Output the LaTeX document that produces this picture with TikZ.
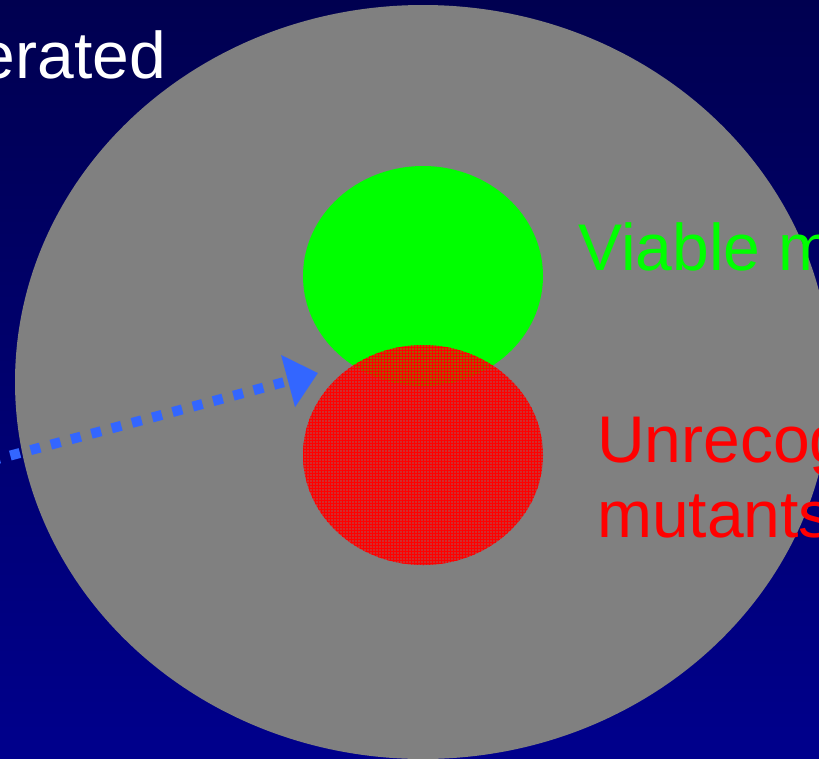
\documentclass[tikz,border=0pt]{standalone}
\usepackage{fontspec}
\setmainfont{Liberation Sans}
\usetikzlibrary{arrows.meta, shapes.geometric, patterns}
\definecolor{navytop}{RGB}{0,0,80}
\definecolor{navybot}{RGB}{0,0,140}
\definecolor{pool}{RGB}{128,128,128}
\definecolor{arrowblue}{RGB}{51,102,255}

\begin{document}
\begin{tikzpicture}[x=1pt, y=-1pt,
  label/.style = {inner sep=0pt, font=\fontsize{66}{75}\selectfont},
  blob/.style = {ellipse, inner sep=0pt, minimum width=240pt, minimum height=220pt}]
\useasboundingbox (0,0) rectangle (819,758);
\shade[top color=navytop, bottom color=navybot] (0,0) rectangle (819,758);
\node[ellipse, inner sep=0pt, minimum width=816pt, minimum height=754pt, fill=pool] (all) at (423,382) {};
\node[blob, fill=green] (viable) at (423,276) {};
\node[blob, fill=red, fill opacity=0.65] (unrecog) at (423,455) {};
\node[blob, pattern=grid, pattern color=red] (unrecoghatch) at (423,455) {};
\coordinate (src) at (-10,461);
\coordinate (tip) at (318,373);
\draw[arrowblue, line width=10pt, dash pattern=on 10pt off 11pt,
  -{Triangle[length=31pt, width=52pt]}] (src) -- (tip);
\node[label, white, anchor=base east] (gen) at (166,78) {erated};
\node[label, green, anchor=base west] (viablelbl) at (578,270) {Viable m};
\node[label, red, anchor=base west] (unreclbl) at (597,462) {Unrecog};
\node[label, red, anchor=base west] (mutlbl) at (597,537) {mutants};
\end{tikzpicture}
\end{document}
